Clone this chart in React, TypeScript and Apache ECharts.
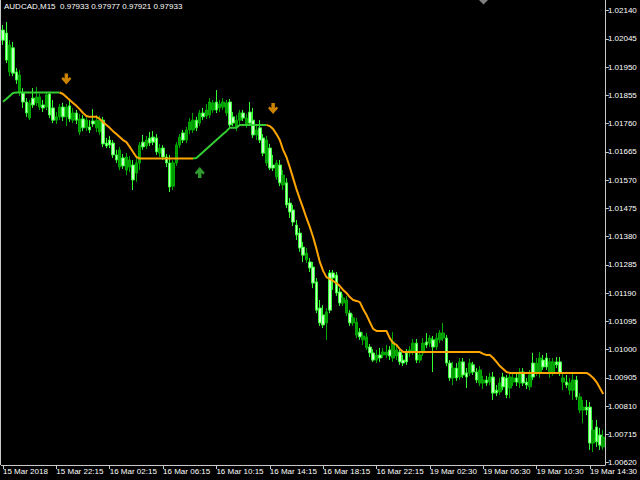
import React, { useEffect, useRef } from "react";
import * as echarts from "echarts";

const tickLabels = [
  "15 Mar 2018", "15 Mar 22:15", "16 Mar 02:15", "16 Mar 06:15", "16 Mar 10:15", "16 Mar 14:15",
  "16 Mar 18:15", "16 Mar 22:15", "19 Mar 02:30", "19 Mar 06:30", "19 Mar 10:30", "19 Mar 14:30",
];

const priceTicks = [
  1.0062, 1.00715, 1.0081, 1.00905, 1.01, 1.01095, 1.0119, 1.01285, 1.0138,
  1.01475, 1.0157, 1.01665, 1.0176, 1.01855, 1.0195, 1.02045, 1.0214,
];

const opens = [
  1.02075, 1.02065, 1.01934, 1.02015, 1.01934, 1.01867, 1.01863, 1.01833, 1.01779, 1.01846,
  1.01830, 1.01816, 1.01823, 1.01816, 1.01860, 1.01813, 1.01772, 1.01783, 1.01816, 1.01783,
  1.01820, 1.01772, 1.01796, 1.01732, 1.01776, 1.01746, 1.01749, 1.01769, 1.01746, 1.01732,
  1.01772, 1.01695, 1.01705, 1.01695, 1.01655, 1.01614, 1.01645, 1.01604, 1.01614, 1.01621,
  1.01594, 1.01628, 1.01698, 1.01685, 1.01712, 1.01715, 1.01712, 1.01661, 1.01678, 1.01648,
  1.01628, 1.01550, 1.01628, 1.01688, 1.01729, 1.01705, 1.01739, 1.01739, 1.01772, 1.01762,
  1.01796, 1.01786, 1.01789, 1.01806, 1.01833, 1.01813, 1.01816, 1.01796, 1.01833, 1.01783,
  1.01746, 1.01772, 1.01796, 1.01756, 1.01799, 1.01772, 1.01722, 1.01746, 1.01712, 1.01628,
  1.01678, 1.01621, 1.01581, 1.01621, 1.01554, 1.01561, 1.01493, 1.01470, 1.01419, 1.01392,
  1.01345, 1.01302, 1.01295, 1.01278, 1.01228, 1.01140, 1.01117, 1.01090, 1.01258, 1.01258,
  1.01251, 1.01194, 1.01157, 1.01123, 1.01123, 1.01090, 1.01049, 1.01059, 1.01033, 1.01006,
  1.01009, 1.00989, 1.00965, 1.00982, 1.00982, 1.00982, 1.00999, 1.00972, 1.00979, 1.00992,
  1.00965, 1.00989, 1.00989, 1.00992, 1.01022, 1.00965, 1.00989, 1.01026, 1.01022, 1.01033,
  1.01009, 1.01033, 1.01039, 1.01039, 1.00955, 1.00905, 1.00938, 1.00908, 1.00959, 1.00922,
  1.00922, 1.00949, 1.00925, 1.00888, 1.00888, 1.00898, 1.00891, 1.00908, 1.00864, 1.00858,
  1.00908, 1.00905, 1.00871, 1.00891, 1.00905, 1.00888, 1.00925, 1.00891, 1.00875, 1.00955,
  1.00922, 1.00925, 1.00965, 1.00972, 1.00922, 1.00922, 1.00959, 1.00959, 1.00891, 1.00891,
  1.00864, 1.00864, 1.00898, 1.00797, 1.00797, 1.00807, 1.00807, 1.00686, 1.00740, 1.00713,
  1.00673,
];

const closes = [
  1.02041, 1.01974, 1.02025, 1.01930, 1.01907, 1.01924, 1.01833, 1.01796, 1.01830, 1.01823,
  1.01850, 1.01850, 1.01813, 1.01857, 1.01789, 1.01772, 1.01783, 1.01816, 1.01783, 1.01816,
  1.01776, 1.01796, 1.01772, 1.01776, 1.01746, 1.01772, 1.01739, 1.01759, 1.01772, 1.01772,
  1.01692, 1.01685, 1.01688, 1.01655, 1.01638, 1.01672, 1.01618, 1.01648, 1.01638, 1.01571,
  1.01628, 1.01688, 1.01682, 1.01705, 1.01695, 1.01698, 1.01665, 1.01678, 1.01648, 1.01628,
  1.01547, 1.01628, 1.01688, 1.01715, 1.01705, 1.01739, 1.01766, 1.01772, 1.01746, 1.01796,
  1.01783, 1.01806, 1.01833, 1.01830, 1.01806, 1.01826, 1.01833, 1.01830, 1.01756, 1.01762,
  1.01772, 1.01796, 1.01779, 1.01779, 1.01762, 1.01722, 1.01739, 1.01705, 1.01661, 1.01705,
  1.01611, 1.01611, 1.01628, 1.01561, 1.01587, 1.01487, 1.01463, 1.01429, 1.01386, 1.01342,
  1.01318, 1.01325, 1.01275, 1.01224, 1.01133, 1.01090, 1.01083, 1.01127, 1.01133, 1.01241,
  1.01191, 1.01157, 1.01174, 1.01167, 1.01090, 1.01107, 1.01093, 1.01043, 1.01046, 1.01043,
  1.00989, 1.00965, 1.00982, 1.00972, 1.00992, 1.00992, 1.00979, 1.01026, 1.00999, 1.00959,
  1.00955, 1.00959, 1.00999, 1.01022, 1.00965, 1.00982, 1.01022, 1.01016, 1.01039, 1.01009,
  1.01039, 1.01056, 1.01056, 1.00955, 1.00905, 1.00938, 1.00905, 1.00959, 1.00915, 1.00908,
  1.00955, 1.00925, 1.00898, 1.00932, 1.00898, 1.00888, 1.00908, 1.00854, 1.00854, 1.00888,
  1.00875, 1.00848, 1.00908, 1.00905, 1.00891, 1.00925, 1.00888, 1.00881, 1.00915, 1.00908,
  1.00955, 1.00972, 1.00942, 1.00942, 1.00959, 1.00959, 1.00949, 1.00922, 1.00905, 1.00881,
  1.00888, 1.00898, 1.00841, 1.00841, 1.00807, 1.00797, 1.00686, 1.00730, 1.00690, 1.00679,
  1.00706,
];

const lows = [
  1.02025, 1.01964, 1.01920, 1.01920, 1.01894, 1.01853, 1.01813, 1.01783, 1.01772, 1.01813,
  1.01820, 1.01806, 1.01799, 1.01806, 1.01779, 1.01762, 1.01759, 1.01772, 1.01769, 1.01752,
  1.01766, 1.01762, 1.01759, 1.01722, 1.01735, 1.01735, 1.01729, 1.01749, 1.01732, 1.01722,
  1.01682, 1.01678, 1.01678, 1.01645, 1.01628, 1.01604, 1.01608, 1.01587, 1.01598, 1.01537,
  1.01564, 1.01604, 1.01672, 1.01675, 1.01685, 1.01688, 1.01655, 1.01648, 1.01638, 1.01614,
  1.01530, 1.01537, 1.01618, 1.01678, 1.01695, 1.01695, 1.01725, 1.01729, 1.01735, 1.01752,
  1.01772, 1.01776, 1.01779, 1.01796, 1.01796, 1.01799, 1.01806, 1.01786, 1.01746, 1.01752,
  1.01735, 1.01759, 1.01769, 1.01746, 1.01752, 1.01712, 1.01705, 1.01695, 1.01651, 1.01618,
  1.01604, 1.01601, 1.01571, 1.01550, 1.01537, 1.01476, 1.01443, 1.01416, 1.01369, 1.01329,
  1.01295, 1.01292, 1.01261, 1.01207, 1.01123, 1.01080, 1.01073, 1.01033, 1.01123, 1.01201,
  1.01181, 1.01147, 1.01147, 1.01113, 1.01080, 1.01080, 1.01039, 1.01033, 1.01016, 1.00999,
  1.00975, 1.00959, 1.00955, 1.00959, 1.00972, 1.00972, 1.00965, 1.00959, 1.00965, 1.00949,
  1.00945, 1.00949, 1.00975, 1.00982, 1.00955, 1.00955, 1.00979, 1.01006, 1.01009, 1.00925,
  1.00999, 1.01022, 1.01029, 1.00945, 1.00895, 1.00881, 1.00895, 1.00898, 1.00905, 1.00871,
  1.00912, 1.00915, 1.00888, 1.00878, 1.00868, 1.00878, 1.00881, 1.00831, 1.00844, 1.00848,
  1.00864, 1.00837, 1.00837, 1.00878, 1.00878, 1.00871, 1.00878, 1.00868, 1.00864, 1.00898,
  1.00912, 1.00905, 1.00932, 1.00932, 1.00905, 1.00912, 1.00938, 1.00912, 1.00864, 1.00871,
  1.00848, 1.00831, 1.00831, 1.00787, 1.00753, 1.00780, 1.00663, 1.00656, 1.00673, 1.00663,
  1.00663,
];

const highs = [
  1.02092, 1.02102, 1.02041, 1.02035, 1.01947, 1.01941, 1.01880, 1.01846, 1.01840, 1.01880,
  1.01883, 1.01860, 1.01840, 1.01867, 1.01867, 1.01840, 1.01799, 1.01826, 1.01830, 1.01826,
  1.01840, 1.01813, 1.01806, 1.01793, 1.01789, 1.01783, 1.01772, 1.01809, 1.01789, 1.01786,
  1.01783, 1.01712, 1.01719, 1.01705, 1.01672, 1.01682, 1.01658, 1.01661, 1.01651, 1.01638,
  1.01645, 1.01698, 1.01722, 1.01719, 1.01732, 1.01735, 1.01725, 1.01692, 1.01688, 1.01658,
  1.01655, 1.01638, 1.01698, 1.01725, 1.01739, 1.01749, 1.01779, 1.01796, 1.01783, 1.01806,
  1.01813, 1.01826, 1.01846, 1.01840, 1.01873, 1.01840, 1.01846, 1.01840, 1.01843, 1.01799,
  1.01789, 1.01806, 1.01806, 1.01793, 1.01833, 1.01813, 1.01756, 1.01772, 1.01725, 1.01719,
  1.01692, 1.01655, 1.01638, 1.01638, 1.01604, 1.01577, 1.01510, 1.01487, 1.01436, 1.01409,
  1.01362, 1.01342, 1.01308, 1.01295, 1.01241, 1.01167, 1.01150, 1.01140, 1.01268, 1.01268,
  1.01261, 1.01207, 1.01187, 1.01181, 1.01133, 1.01120, 1.01107, 1.01073, 1.01059, 1.01056,
  1.01019, 1.01002, 1.00999, 1.01006, 1.01006, 1.01016, 1.01012, 1.01059, 1.01012, 1.01006,
  1.00982, 1.01002, 1.01012, 1.01036, 1.01036, 1.00996, 1.01039, 1.01056, 1.01049, 1.01046,
  1.01056, 1.01066, 1.01090, 1.01049, 1.00965, 1.00959, 1.00955, 1.00972, 1.00972, 1.00938,
  1.00969, 1.00959, 1.00938, 1.00945, 1.00912, 1.00912, 1.00922, 1.00925, 1.00881, 1.00905,
  1.00922, 1.00915, 1.00925, 1.00918, 1.00922, 1.00938, 1.00938, 1.00905, 1.00932, 1.00989,
  1.00972, 1.00992, 1.00982, 1.00989, 1.00972, 1.00972, 1.00975, 1.00975, 1.00925, 1.00915,
  1.00905, 1.00925, 1.00912, 1.00854, 1.00831, 1.00831, 1.00824, 1.00764, 1.00764, 1.00737,
  1.00730,
];

const N = null;
const trendUp = [
  1.01834, 1.01843, 1.01853, 1.01863, 1.01865, 1.01865, 1.01865, 1.01865, 1.01865, 1.01865,
  1.01865, 1.01865, 1.01865, 1.01865, 1.01865, 1.01865, 1.01865, 1.01865, N, N,
  N, N, N, N, N, N, N, N, N, N,
  N, N, N, N, N, N, N, N, N, N,
  N, N, N, N, N, N, N, N, N, N,
  N, N, N, N, N, N, N, 1.01643, 1.01645, 1.01655,
  1.01665, 1.01675, 1.01685, 1.01695, 1.01705, 1.01715, 1.01725, 1.01735, 1.01746, 1.01746,
  1.01746, 1.01756, 1.01756, 1.01756, 1.01756, 1.01756, 1.01756, 1.01756, 1.01756, 1.01756,
  N, N, N, N, N, N, N, N, N, N,
  N, N, N, N, N, N, N, N, N, N,
  N, N, N, N, N, N, N, N, N, N,
  N, N, N, N, N, N, N, N, N, N,
  N, N, N, N, N, N, N, N, N, N,
  N, N, N, N, N, N, N, N, N, N,
  N, N, N, N, N, N, N, N, N, N,
  N, N, N, N, N, N, N, N, N, N,
  N, N, N, N, N, N, N, N, N, N,
  N, N, N, N, N, N, N, N, N, N,
  N,
];

const trendDown = [
  N, N, N, N, N, N, N, N, N, N,
  N, N, N, N, N, N, N, 1.01865, 1.01860, 1.01850,
  1.01840, 1.01830, 1.01820, 1.01809, 1.01796, 1.01786, 1.01783, 1.01783, 1.01783, 1.01776,
  1.01766, 1.01756, 1.01746, 1.01735, 1.01725, 1.01715, 1.01705, 1.01698, 1.01682, 1.01665,
  1.01648, 1.01643, 1.01643, 1.01643, 1.01643, 1.01643, 1.01643, 1.01643, 1.01643, 1.01643,
  1.01643, 1.01643, 1.01643, 1.01643, 1.01643, 1.01643, 1.01643, 1.01643, N, N,
  N, N, N, N, N, N, N, N, N, N,
  N, N, N, N, N, N, N, N, N, 1.01756,
  1.01752, 1.01742, 1.01725, 1.01705, 1.01672, 1.01648, 1.01614, 1.01577, 1.01540, 1.01507,
  1.01476, 1.01443, 1.01413, 1.01379, 1.01339, 1.01295, 1.01265, 1.01244, 1.01238, 1.01231,
  1.01224, 1.01214, 1.01201, 1.01191, 1.01177, 1.01167, 1.01164, 1.01160, 1.01137, 1.01117,
  1.01093, 1.01070, 1.01063, 1.01063, 1.01063, 1.01063, 1.01039, 1.01022, 1.01016, 1.01002,
  1.00992, 1.00992, 1.00992, 1.00992, 1.00992, 1.00992, 1.00992, 1.00992, 1.00992, 1.00992,
  1.00992, 1.00992, 1.00992, 1.00992, 1.00992, 1.00992, 1.00992, 1.00992, 1.00992, 1.00992,
  1.00992, 1.00992, 1.00992, 1.00992, 1.00986, 1.00982, 1.00982, 1.00972, 1.00959, 1.00945,
  1.00935, 1.00925, 1.00922, 1.00922, 1.00922, 1.00922, 1.00922, 1.00922, 1.00922, 1.00922,
  1.00922, 1.00922, 1.00922, 1.00922, 1.00922, 1.00922, 1.00922, 1.00922, 1.00922, 1.00922,
  1.00922, 1.00922, 1.00922, 1.00922, 1.00922, 1.00922, 1.00915, 1.00905, 1.00891, 1.00871,
  1.00851,
];

const arrowsDown = [
  [19, 1.0191],
  [81, 1.01811],
];
const arrowsUp = [[59, 1.01596]];

const headerText = "AUDCAD,M15  0.97933 0.97977 0.97921 0.97933";

const DOWN_ARROW =
  "path://M3.25,0 L6.75,0 L6.75,5 L8.5,3.5 L10,5.2 L5,11 L0,5.2 L1.5,3.5 L3.25,5 Z";
const UP_ARROW =
  "path://M5,0 L10,5.8 L8.5,7.5 L6.75,6 L6.75,11 L3.25,11 L3.25,6 L1.5,7.5 L0,5.8 Z";

export default function App() {
  const ref = useRef<HTMLDivElement>(null);
  useEffect(() => {
    document.body.style.margin = "0";
    document.body.style.background = "#000";
    const chart = echarts.init(ref.current!, null, { renderer: "svg" });
    const cats = opens.map((_, i) => String(i));
    const candles = opens.map((o, i) => [o, closes[i], lows[i], highs[i]]);
    const frame = "#c8c8c8";
    chart.setOption({
      animation: false,
      backgroundColor: "#000",
      grid: { left: 0, right: 34.5, top: 0, bottom: 15 },
      xAxis: {
        type: "category",
        data: cats,
        boundaryGap: true,
        axisLine: { show: true, lineStyle: { color: frame, width: 1 } },
        axisTick: { show: true, interval: 15, alignWithLabel: true, length: 4, lineStyle: { color: frame } },
        axisLabel: {
          interval: 15,
          formatter: (_v: string, idx: number) => tickLabels[Math.round(idx / 16)] ?? "",
          color: "#ffffff",
          fontSize: 8,
          fontFamily: "Liberation Sans",
          align: "left",
          margin: 2,
        },
        splitLine: { show: false },
      },
      yAxis: {
        type: "value",
        position: "right",
        min: 1.006122,
        max: 1.02176,
        scale: true,
        axisLine: { show: true, lineStyle: { color: frame, width: 1 } },
        axisTick: { show: true, customValues: priceTicks, length: 4, lineStyle: { color: frame } },
        axisLabel: {
          customValues: priceTicks,
          formatter: (v: number) => v.toFixed(5),
          color: "#ffffff",
          fontSize: 8,
          fontFamily: "Liberation Sans",
          margin: 3,
        },
        splitLine: { show: false },
      },
      graphic: [
        {
          type: "text",
          left: 4,
          top: 2,
          style: { text: headerText, fill: "#ffffff", font: '8px "Liberation Sans"' },
        },
        {
          type: "line",
          shape: { x1: 0.5, y1: 0, x2: 0.5, y2: 465 },
          style: { stroke: frame, lineWidth: 1 },
        },
        {
          type: "polygon",
          shape: { points: [[479, 0], [488, 0], [483.5, 4.5]] },
          style: { fill: "#808080" },
        },
      ],
      series: [
        {
          type: "candlestick",
          data: candles,
          barWidth: 3,
          itemStyle: {
            color: "#009900",
            color0: "#c8ffc8",
            borderColor: "#00a800",
            borderColor0: "#33ff33",
            borderWidth: 1,
          },
        },
        {
          type: "line",
          data: trendUp,
          showSymbol: false,
          connectNulls: false,
          lineStyle: { color: "#32cd32", width: 2 },
          z: 3,
        },
        {
          type: "line",
          data: trendDown,
          showSymbol: false,
          connectNulls: false,
          lineStyle: { color: "#ffa500", width: 2 },
          z: 3,
        },
        {
          type: "scatter",
          data: arrowsDown,
          symbol: DOWN_ARROW,
          symbolSize: [10, 11],
          itemStyle: { color: "#ffa500" },
          z: 4,
        },
        {
          type: "scatter",
          data: arrowsUp,
          symbol: UP_ARROW,
          symbolSize: [10, 11],
          itemStyle: { color: "#3cc03c" },
          z: 4,
        },
      ],
    });
    return () => chart.dispose();
  }, []);
  return <div ref={ref} style={{ width: 640, height: 480, background: "#000" }} />;
}
